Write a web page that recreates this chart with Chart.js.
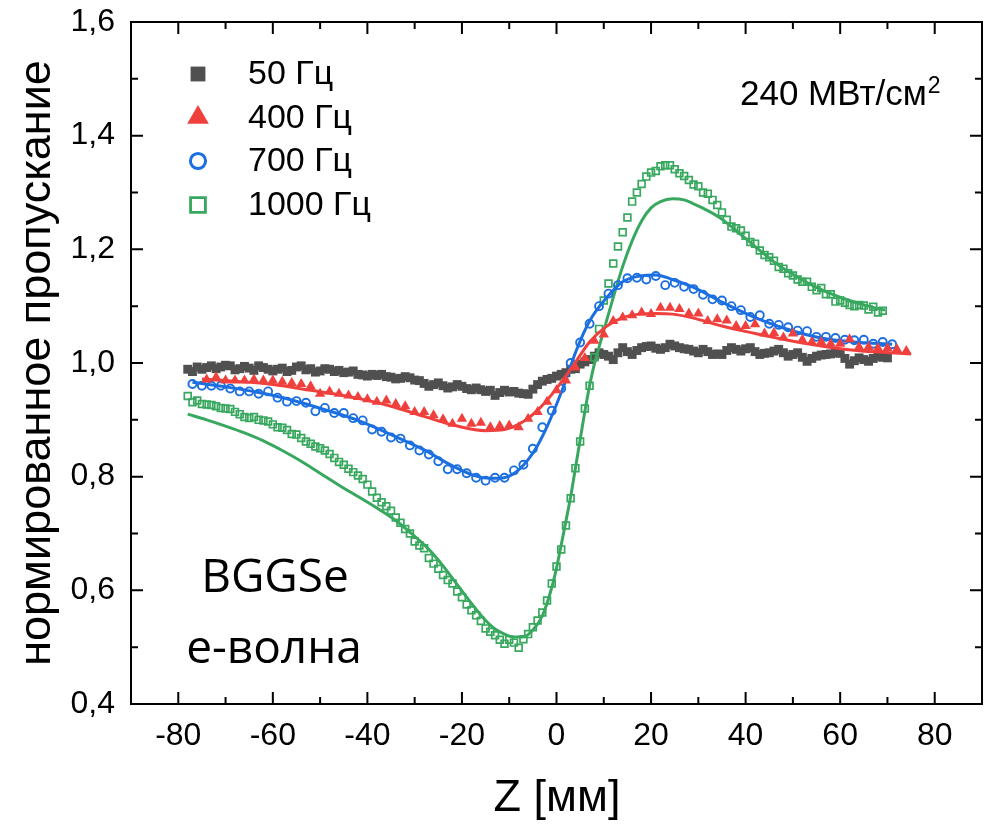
<!DOCTYPE html>
<html>
<head>
<meta charset="utf-8">
<script src="https://cdn.jsdelivr.net/npm/chart.js@4.4.0/dist/chart.umd.min.js"></script>
<style>
  html, body { margin: 0; padding: 0; background: #fff; }
  #wrap { width: 997px; height: 825px; }
</style>
</head>
<body>
<div id="wrap"><canvas id="chart" width="997" height="825"></canvas></div>
<script>
// ---- данные ----
const xTicks = [-80, -60, -40, -20, 0, 20, 40, 60, 80];
const xMinorTicks = [-70, -50, -30, -10, 10, 30, 50, 70];
const yTicks = [0.4, 0.6, 0.8, 1.0, 1.2, 1.4, 1.6];
const yMinorTicks = [0.5, 0.7, 0.9, 1.1, 1.3, 1.5];
const seriesNames = ['50 Гц', '400 Гц', '700 Гц', '1000 Гц'];

// 50 Гц (точки)
const z50 = [-78,-77,-76,-75,-74,-73,-72,-71,-70,-69,-68,-67,-66,-65,-64,-63,-62,-61,-60,-59,-58,-57,-56,-55,-54,-53,-52,-51,-50,-49,-48,-47,-46,-45,-44,-43,-42,-41,-40,-39,-38,-37,-36,-35,-34,-33,-32,-31,-30,-29,-28,-27,-26,-25,-24,-23,-22,-21,-20,-19,-18,-17,-16,-15,-14,-13,-12,-11,-10,-9,-8,-7,-6,-5,-4,-3,-2,-1,0,1,2,3,4,5,6,7,8,9,10,11,12,13,14,15,16,17,18,19,20,21,22,23,24,25,26,27,28,29,30,31,32,33,34,35,36,37,38,39,40,41,42,43,44,45,46,47,48,49,50,51,52,53,54,55,56,57,58,59,60,61,62,63,64,65,66,67,68,69,70];
const t50 = [0.989,0.985,0.993,0.989,0.992,0.995,0.990,0.993,0.996,0.995,0.988,0.990,0.994,0.991,0.987,0.995,0.992,0.989,0.986,0.989,0.991,0.985,0.987,0.993,0.995,0.988,0.990,0.984,0.986,0.990,0.989,0.985,0.987,0.983,0.984,0.986,0.980,0.979,0.977,0.980,0.978,0.980,0.976,0.975,0.972,0.973,0.976,0.974,0.970,0.969,0.964,0.959,0.962,0.965,0.960,0.956,0.958,0.962,0.959,0.955,0.953,0.956,0.953,0.950,0.952,0.943,0.948,0.952,0.949,0.950,0.947,0.946,0.945,0.954,0.962,0.968,0.971,0.973,0.977,0.980,0.983,0.989,0.990,0.998,1.002,1.006,1.012,1.018,1.015,1.012,1.006,1.018,1.027,1.020,1.015,1.022,1.027,1.029,1.030,1.026,1.024,1.027,1.033,1.030,1.027,1.025,1.024,1.021,1.018,1.024,1.020,1.015,1.016,1.015,1.022,1.027,1.024,1.021,1.025,1.027,1.020,1.015,1.017,1.018,1.021,1.024,1.018,1.012,1.015,1.018,1.010,1.003,1.008,1.012,1.014,1.015,1.016,1.018,1.017,1.008,0.998,1.004,1.009,1.006,1.003,1.008,1.012,1.010,1.009];

// 400 Гц (точки и аппроксимация)
const z400 = [-74,-72,-70,-68,-66,-64,-62,-60,-58,-56,-54,-52,-50,-48,-46,-44,-42,-40,-38,-36,-34,-32,-30,-28,-26,-24,-22,-20,-18,-16,-14,-12,-10,-8,-6,-4,-2,0,2,4,6,8,10,12,14,16,18,20,22,24,26,28,30,32,34,36,38,40,42,44,46,48,50,52,54,56,58,60,62,64,66,68,70,72,74];
const t400 = [0.971,0.975,0.969,0.969,0.969,0.971,0.969,0.969,0.967,0.965,0.963,0.959,0.946,0.950,0.946,0.943,0.940,0.936,0.932,0.934,0.928,0.924,0.914,0.914,0.908,0.901,0.893,0.902,0.893,0.895,0.887,0.889,0.890,0.887,0.902,0.914,0.932,0.952,0.969,0.992,1.009,1.039,1.050,1.074,1.080,1.084,1.089,1.086,1.097,1.097,1.095,1.087,1.087,1.074,1.077,1.075,1.065,1.065,1.068,1.052,1.053,1.045,1.052,1.041,1.037,1.037,1.034,1.034,1.042,1.028,1.028,1.026,1.026,1.024,1.021];
const zFit400 = [-75,-68,-60,-52,-46,-41,-35,-28,-21,-15,-11,-7,-3.5,0,3.5,7,10.5,14,17.5,21,24.5,29,35,42,49,56,63.5,70.5,75];
const fit400 = [0.972,0.968,0.962,0.952,0.944,0.936,0.924,0.906,0.889,0.881,0.883,0.897,0.921,0.955,0.995,1.037,1.064,1.080,1.086,1.087,1.086,1.079,1.065,1.052,1.040,1.030,1.022,1.018,1.016];

// 700 Гц
const z700 = [-77,-75,-73,-71,-69,-67,-65,-63,-61,-59,-57,-55,-53,-51,-49,-47,-45,-43,-41,-39,-37,-35,-33,-31,-29,-27,-25,-23,-21,-19,-17,-15,-13,-11,-9,-7,-5,-3,-1,1,3,5,7,9,11,13,15,17,19,21,23,25,27,29,31,33,35,37,39,41,43,45,47,49,51,53,55,57,59,61,63,65,67,69,71];
const t700 = [0.963,0.960,0.960,0.960,0.955,0.950,0.950,0.946,0.950,0.939,0.932,0.933,0.930,0.915,0.921,0.912,0.912,0.903,0.899,0.883,0.879,0.869,0.867,0.855,0.846,0.839,0.827,0.813,0.813,0.806,0.798,0.793,0.798,0.798,0.811,0.821,0.849,0.887,0.916,0.955,1.000,1.036,1.069,1.100,1.122,1.137,1.149,1.150,1.147,1.153,1.137,1.141,1.134,1.130,1.120,1.112,1.110,1.100,1.093,1.081,1.084,1.069,1.067,1.063,1.057,1.056,1.046,1.046,1.044,1.041,1.040,1.041,1.034,1.037,1.033];
const zFit700 = [-77,-70,-63,-56,-49,-42,-35,-28,-22,-17,-14,-12,-10,-8,-6,-4,-2,0,2,4,7,10.5,14,17.5,21,24.5,29,35,42,49,56,63,71];
const fit700 = [0.966,0.958,0.948,0.935,0.918,0.899,0.874,0.847,0.819,0.801,0.797,0.797,0.801,0.812,0.830,0.855,0.888,0.927,0.970,1.018,1.074,1.114,1.143,1.153,1.155,1.147,1.133,1.107,1.080,1.059,1.044,1.037,1.033];

// 1000 Гц
const z1000 = [-78,-77,-76,-75,-74,-73,-72,-71,-70,-69,-68,-67,-66,-65,-64,-63,-62,-61,-60,-59,-58,-57,-56,-55,-54,-53,-52,-51,-50,-49,-48,-47,-46,-45,-44,-43,-42,-41,-40,-39,-38,-37,-36,-35,-34,-33,-32,-31,-30,-29,-28,-27,-26,-25,-24,-23,-22,-21,-20,-19,-18,-17,-16,-15,-14,-13,-12,-11,-10,-9,-8,-7,-6,-5,-4,-3,-2,-1,0,1,2,3,4,5,6,7,8,9,10,11,12,13,14,15,16,17,18,19,20,21,22,23,24,25,26,27,28,29,30,31,32,33,34,35,36,37,38,39,40,41,42,43,44,45,46,47,48,49,50,51,52,53,54,55,56,57,58,59,60,61,62,63,64,65,66,67,68,69];
const t1000 = [0.942,0.931,0.934,0.928,0.927,0.926,0.924,0.921,0.920,0.919,0.914,0.910,0.905,0.903,0.905,0.900,0.899,0.897,0.892,0.887,0.886,0.882,0.875,0.874,0.868,0.862,0.858,0.853,0.850,0.846,0.840,0.833,0.826,0.821,0.814,0.808,0.802,0.796,0.786,0.774,0.763,0.755,0.748,0.740,0.728,0.719,0.708,0.700,0.686,0.679,0.674,0.657,0.647,0.638,0.627,0.618,0.612,0.598,0.588,0.575,0.565,0.556,0.546,0.533,0.527,0.521,0.513,0.506,0.513,0.508,0.499,0.514,0.523,0.535,0.547,0.561,0.582,0.612,0.642,0.672,0.714,0.762,0.815,0.862,0.920,0.960,1.010,1.060,1.110,1.140,1.175,1.205,1.230,1.256,1.284,1.300,1.315,1.328,1.335,1.338,1.346,1.348,1.348,1.341,1.334,1.329,1.322,1.314,1.311,1.300,1.298,1.287,1.278,1.265,1.252,1.240,1.237,1.233,1.224,1.213,1.210,1.198,1.190,1.186,1.180,1.169,1.166,1.158,1.154,1.147,1.143,1.143,1.134,1.128,1.132,1.121,1.121,1.108,1.110,1.106,1.102,1.100,1.102,1.101,1.094,1.099,1.089,1.092];
const zFit1000 = [-78,-74,-70,-66,-62,-58,-54,-50,-46,-42,-38,-34,-30,-27,-24,-21,-18,-15,-13,-11,-9,-7,-5,-3,-1,0,1,2,3,4,5,6,7,8,9,10.5,12,14,16,18,20,22,24.5,27,29,32,35,38,42,46,50,54,58,62,66,69.5];
const fit1000 = [0.910,0.900,0.889,0.877,0.863,0.846,0.827,0.806,0.785,0.765,0.745,0.723,0.695,0.672,0.643,0.610,0.577,0.547,0.532,0.523,0.518,0.518,0.530,0.555,0.605,0.639,0.680,0.722,0.765,0.815,0.865,0.915,0.960,0.998,1.028,1.072,1.115,1.170,1.215,1.250,1.273,1.284,1.289,1.287,1.280,1.268,1.253,1.233,1.205,1.178,1.156,1.137,1.122,1.110,1.100,1.093];

const COL_GRAY = '#505050';
const COL_RED = '#f0403d';
const COL_BLUE = '#1c6fe0';
const COL_GREEN = '#38a85f';

const pts = (zs, ts) => zs.map((z, i) => ({ x: z, y: ts[i] }));

// маркеры: точки графика и (крупнее) легенда
const markers = [
  { style: 'rect', color: COL_GRAY, fill: COL_GRAY, r: 6.3, bw: 0, lr: 10.5, lbw: 0 },
  { style: 'triangle', color: COL_RED, fill: COL_RED, r: 6, bw: 0, lr: 12.5, lbw: 0 },
  { style: 'circle', color: COL_BLUE, fill: 'rgba(0,0,0,0)', r: 4, bw: 1.9, lr: 7.6, lbw: 3 },
  { style: 'rect', color: COL_GREEN, fill: 'rgba(0,0,0,0)', r: 4.8, bw: 1.7, lr: 10.5, lbw: 2.8 }
];

const scatterSet = (label, data, m, order) => ({
  label, data, order, showLine: false,
  pointStyle: m.style, pointRadius: m.r, pointBorderWidth: m.bw,
  pointBackgroundColor: m.fill, pointBorderColor: m.color
});
const fitSet = (data, color, order) => ({
  label: 'fit', data, order, showLine: true, pointRadius: 0,
  borderColor: color, borderWidth: 3, cubicInterpolationMode: 'monotone', fill: false
});

const decor = {
  id: 'decor',
  afterDraw(chart) {
    const { ctx, chartArea: a, scales: { x, y } } = chart;
    ctx.save();
    ctx.strokeStyle = '#000';
    ctx.lineWidth = 2;
    ctx.strokeRect(a.left, a.top, a.right - a.left, a.bottom - a.top);

    // засечки внутрь на всех четырёх сторонах
    ctx.beginPath();
    const xt = (v, len) => {
      const px = x.getPixelForValue(v);
      ctx.moveTo(px, a.bottom); ctx.lineTo(px, a.bottom - len);
      ctx.moveTo(px, a.top); ctx.lineTo(px, a.top + len);
    };
    const yt = (v, len) => {
      const py = y.getPixelForValue(v);
      ctx.moveTo(a.left, py); ctx.lineTo(a.left + len, py);
      ctx.moveTo(a.right, py); ctx.lineTo(a.right - len, py);
    };
    xTicks.forEach(v => xt(v, 12));
    xMinorTicks.forEach(v => xt(v, 7));
    yTicks.forEach(v => yt(v, 12));
    yMinorTicks.forEach(v => yt(v, 7));
    ctx.stroke();

    // легенда
    const rowY = [74, 117.5, 161, 205];
    ctx.font = '34px "Liberation Sans", Arial, sans-serif';
    ctx.textBaseline = 'middle';
    ctx.textAlign = 'left';
    seriesNames.forEach((name, i) => {
      const m = markers[i];
      ctx.fillStyle = m.fill;
      ctx.strokeStyle = m.color;
      ctx.lineWidth = m.lbw;
      Chart.helpers.drawPoint(ctx, { pointStyle: m.style, rotation: 0, radius: m.lr, borderWidth: m.lbw }, 198, rowY[i]);
      ctx.fillStyle = '#000';
      ctx.fillText(name, 248, rowY[i] + 1);
    });

    // подписи
    ctx.fillStyle = '#000';
    ctx.textBaseline = 'alphabetic';
    ctx.font = '35px "Liberation Sans", Arial, sans-serif';
    ctx.fillText('240 МВт/см', 740, 105);
    const w = ctx.measureText('240 МВт/см').width;
    ctx.font = '23px "Liberation Sans", Arial, sans-serif';
    ctx.fillText('2', 740 + w + 1, 93);

    ctx.textAlign = 'center';
    ctx.font = '46px "Open Sans", sans-serif';
    ctx.fillText('BGGSe', 275, 592);
    ctx.fillText('е-волна', 274, 663);

    ctx.font = '45px "Liberation Sans", Arial, sans-serif';
    ctx.textBaseline = 'middle';
    ctx.fillText('Z [мм]', 557, 799);
    ctx.translate(38, 363);
    ctx.rotate(-Math.PI / 2);
    ctx.fillText('нормированное пропускание', 0, 0);
    ctx.restore();
  }
};

new Chart(document.getElementById('chart'), {
  type: 'scatter',
  data: {
    datasets: [
      fitSet(pts(zFit400, fit400), COL_RED, 1),
      scatterSet(seriesNames[1], pts(z400, t400), markers[1], 2),
      fitSet(pts(zFit700, fit700), COL_BLUE, 3),
      scatterSet(seriesNames[2], pts(z700, t700), markers[2], 4),
      fitSet(pts(zFit1000, fit1000), COL_GREEN, 5),
      scatterSet(seriesNames[3], pts(z1000, t1000), markers[3], 6),
      scatterSet(seriesNames[0], pts(z50, t50), markers[0], 7)
    ]
  },
  options: {
    responsive: false,
    animation: false,
    devicePixelRatio: 1,
    layout: { padding: { left: 0, right: 15, top: 22, bottom: 0 } },
    plugins: { legend: { display: false }, tooltip: { enabled: false } },
    scales: {
      x: {
        type: 'linear', min: -90, max: 90,
        afterFit: s => { s.height = 121; s.paddingLeft = 0; s.paddingRight = 0; },
        afterBuildTicks: s => { s.ticks = xTicks.map(v => ({ value: v })); },
        grid: { display: false, drawTicks: false },
        border: { display: false },
        ticks: { color: '#000', padding: 13, maxRotation: 0, font: { family: '"Liberation Sans", Arial', size: 32 } }
      },
      y: {
        type: 'linear', min: 0.4, max: 1.6,
        afterFit: s => { s.width = 131; s.paddingTop = 0; s.paddingBottom = 0; },
        afterBuildTicks: s => { s.ticks = yTicks.map(v => ({ value: v })); },
        grid: { display: false, drawTicks: false },
        border: { display: false },
        ticks: {
          color: '#000', padding: 16,
          font: { family: '"Liberation Sans", Arial', size: 32 },
          callback: v => v.toFixed(1).replace('.', ',')
        }
      }
    }
  },
  plugins: [decor]
});
</script>
</body>
</html>
